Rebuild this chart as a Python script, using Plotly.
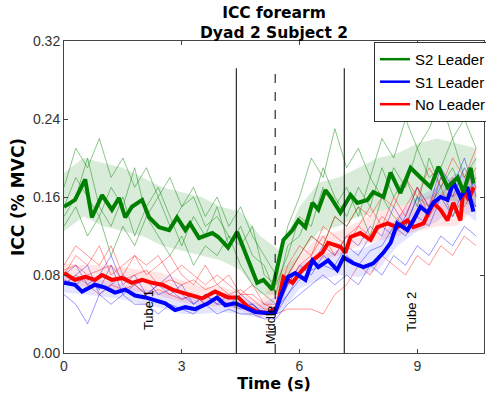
import plotly.graph_objects as go

# ---- mean curves ----
s2_t = [0.0, 0.28, 0.54, 0.71, 0.97, 1.22, 1.40, 1.56, 1.73, 1.99, 2.17, 2.42, 2.68, 2.88, 3.09, 3.21,
        3.44, 3.78, 3.93, 4.18, 4.41, 4.62, 4.92, 5.08, 5.31, 5.38, 5.59, 5.82, 5.97, 6.15, 6.33, 6.48,
        6.66, 6.79, 7.04, 7.30, 7.47, 7.73, 7.88, 8.14, 8.32, 8.57, 8.83, 9.08, 9.34, 9.54, 9.77, 10.03,
        10.18, 10.36, 10.43]
s2_mean = [0.150, 0.157, 0.178, 0.139, 0.162, 0.147, 0.159, 0.139, 0.150, 0.157, 0.139, 0.129, 0.126, 0.139,
           0.126, 0.133, 0.118, 0.123, 0.119, 0.108, 0.124, 0.103, 0.072, 0.075, 0.065, 0.078, 0.116, 0.126,
           0.136, 0.129, 0.154, 0.147, 0.167, 0.160, 0.144, 0.162, 0.154, 0.157, 0.165, 0.160, 0.185, 0.164,
           0.190, 0.180, 0.170, 0.191, 0.170, 0.180, 0.165, 0.190, 0.174]

s1_t = [0.0, 0.28, 0.46, 0.79, 1.05, 1.30, 1.56, 1.81, 2.07, 2.32, 2.58, 2.83, 3.09, 3.34, 3.67, 3.90,
        4.11, 4.36, 4.62, 4.87, 5.18, 5.38, 5.51, 5.71, 5.89, 6.15, 6.33, 6.48, 6.73, 6.96, 7.12, 7.37,
        7.63, 7.88, 8.14, 8.32, 8.49, 8.75, 8.90, 9.08, 9.26, 9.41, 9.59, 9.77, 9.92, 10.10, 10.28, 10.43]
s1_mean = [0.072, 0.070, 0.063, 0.070, 0.067, 0.062, 0.065, 0.059, 0.057, 0.054, 0.051, 0.044, 0.047, 0.045,
           0.051, 0.057, 0.049, 0.051, 0.046, 0.042, 0.041, 0.042, 0.057, 0.078, 0.082, 0.075, 0.095, 0.088,
           0.095, 0.085, 0.098, 0.092, 0.088, 0.092, 0.103, 0.113, 0.133, 0.126, 0.136, 0.150, 0.144, 0.154,
           0.160, 0.157, 0.175, 0.160, 0.170, 0.145]

nl_t = [0.0, 0.28, 0.54, 0.79, 0.97, 1.22, 1.48, 1.73, 1.99, 2.24, 2.50, 2.76, 3.01, 3.27, 3.52, 3.85,
        4.18, 4.44, 4.69, 4.95, 5.20, 5.43, 5.59, 5.82, 6.07, 6.33, 6.58, 6.73, 7.04, 7.17, 7.30, 7.55,
        7.81, 7.98, 8.24, 8.49, 8.75, 8.90, 9.16, 9.41, 9.59, 9.77, 9.92, 10.10, 10.18, 10.31, 10.43]
nl_mean = [0.082, 0.075, 0.078, 0.075, 0.080, 0.075, 0.077, 0.072, 0.075, 0.072, 0.070, 0.065, 0.062, 0.059,
           0.056, 0.063, 0.057, 0.057, 0.047, 0.042, 0.041, 0.047, 0.078, 0.072, 0.085, 0.095, 0.103, 0.113,
           0.109, 0.103, 0.119, 0.123, 0.116, 0.129, 0.133, 0.129, 0.136, 0.129, 0.133, 0.154, 0.147, 0.136,
           0.154, 0.136, 0.170, 0.157, 0.170]

# ---- shaded bands ----
band_t = [0, 0.5, 1, 1.5, 2, 2.5, 3, 3.5, 4, 4.5, 5, 5.5, 6, 6.5, 7, 7.5, 8, 8.5, 9, 9.5, 10, 10.5]
s2_hi = [.185, .200, .195, .190, .180, .170, .165, .160, .150, .145, .120, .105, .150, .175, .180, .190,
         .200, .205, .215, .220, .215, .210]
s2_lo = [.125, .140, .130, .125, .120, .110, .105, .100, .095, .085, .060, .060, .100, .125, .130, .140,
         .145, .150, .155, .160, .155, .150]
s1_hi = [.080, .078, .075, .070, .066, .062, .058, .056, .058, .056, .050, .060, .090, .100, .105, .105,
         .115, .140, .160, .170, .185, .175]
s1_lo = [.062, .060, .058, .055, .050, .046, .040, .040, .042, .040, .036, .040, .066, .075, .080, .078,
         .085, .110, .125, .135, .150, .135]
nl_hi = [.092, .090, .090, .088, .085, .082, .075, .068, .068, .062, .052, .085, .100, .120, .125, .135,
         .145, .150, .155, .165, .165, .185]
nl_lo = [.070, .068, .066, .064, .062, .058, .052, .048, .048, .044, .036, .060, .080, .095, .100, .110,
         .115, .120, .125, .130, .130, .150]

# ---- single trials ----
trial_t = [0.0, 0.3, 0.6, 0.9, 1.2, 1.5, 1.8, 2.1, 2.4, 2.7, 3.0, 3.3, 3.6, 3.9, 4.2, 4.5, 4.8, 5.1,
           5.4, 5.7, 6.0, 6.3, 6.6, 6.9, 7.2, 7.5, 7.8, 8.1, 8.4, 8.7, 9.0, 9.3, 9.6, 9.9, 10.2, 10.5]
s2_trials = [
    [0.17, 0.21, 0.19, 0.22, 0.18, 0.20, 0.17, 0.19, 0.16, 0.18, 0.15, 0.17, 0.14, 0.16, 0.13, 0.15, 0.12, 0.10,
     0.08, 0.13, 0.16, 0.20, 0.18, 0.23, 0.19, 0.21, 0.18, 0.22, 0.20, 0.24, 0.21, 0.23, 0.26, 0.22, 0.24, 0.21],
    [0.13, 0.15, 0.12, 0.14, 0.10, 0.13, 0.11, 0.14, 0.12, 0.10, 0.12, 0.09, 0.11, 0.10, 0.12, 0.09, 0.07, 0.06,
     0.05, 0.08, 0.10, 0.12, 0.11, 0.14, 0.13, 0.15, 0.12, 0.16, 0.14, 0.13, 0.16, 0.15, 0.17, 0.14, 0.16, 0.15],
    [0.15, 0.18, 0.16, 0.14, 0.17, 0.15, 0.19, 0.14, 0.16, 0.13, 0.15, 0.16, 0.13, 0.14, 0.12, 0.11, 0.13, 0.08,
     0.07, 0.10, 0.14, 0.13, 0.17, 0.15, 0.17, 0.14, 0.18, 0.16, 0.19, 0.17, 0.21, 0.18, 0.19, 0.22, 0.18, 0.20],
    [0.14, 0.16, 0.20, 0.15, 0.13, 0.16, 0.12, 0.15, 0.17, 0.14, 0.11, 0.14, 0.12, 0.15, 0.11, 0.13, 0.10, 0.09,
     0.06, 0.11, 0.12, 0.15, 0.19, 0.16, 0.14, 0.17, 0.15, 0.19, 0.16, 0.18, 0.15, 0.20, 0.17, 0.19, 0.16, 0.18],
]
s1_trials = [
    [0.08, 0.09, 0.07, 0.08, 0.10, 0.07, 0.08, 0.06, 0.07, 0.08, 0.06, 0.05, 0.06, 0.05, 0.06, 0.05, 0.05, 0.04,
     0.04, 0.06, 0.08, 0.09, 0.11, 0.10, 0.12, 0.11, 0.13, 0.12, 0.15, 0.13, 0.16, 0.14, 0.18, 0.16, 0.19, 0.17],
    [0.06, 0.05, 0.03, 0.06, 0.05, 0.06, 0.05, 0.05, 0.04, 0.05, 0.045, 0.04, 0.05, 0.04, 0.045, 0.04, 0.04, 0.035,
     0.035, 0.05, 0.06, 0.07, 0.08, 0.07, 0.08, 0.07, 0.09, 0.08, 0.10, 0.09, 0.11, 0.10, 0.12, 0.11, 0.13, 0.12],
    [0.07, 0.08, 0.09, 0.06, 0.07, 0.08, 0.07, 0.06, 0.07, 0.06, 0.07, 0.05, 0.06, 0.05, 0.05, 0.06, 0.05, 0.04,
     0.04, 0.07, 0.09, 0.08, 0.10, 0.09, 0.11, 0.10, 0.12, 0.13, 0.12, 0.14, 0.17, 0.15, 0.19, 0.17, 0.20, 0.16],
    [0.075, 0.07, 0.08, 0.065, 0.09, 0.06, 0.07, 0.075, 0.06, 0.065, 0.055, 0.06, 0.05, 0.055, 0.05, 0.045, 0.05,
     0.04, 0.045, 0.06, 0.075, 0.085, 0.09, 0.085, 0.10, 0.09, 0.105, 0.11, 0.13, 0.12, 0.14, 0.13, 0.16, 0.14,
     0.17, 0.15],
]
nl_trials = [
    [0.09, 0.11, 0.10, 0.09, 0.11, 0.08, 0.10, 0.09, 0.10, 0.08, 0.09, 0.08, 0.07, 0.08, 0.07, 0.06, 0.06, 0.05,
     0.045, 0.08, 0.10, 0.12, 0.11, 0.14, 0.13, 0.15, 0.14, 0.16, 0.15, 0.18, 0.16, 0.19, 0.17, 0.20, 0.18, 0.21],
    [0.07, 0.08, 0.07, 0.06, 0.07, 0.065, 0.07, 0.06, 0.065, 0.06, 0.055, 0.06, 0.05, 0.055, 0.05, 0.05, 0.045,
     0.04, 0.04, 0.045, 0.045, 0.045, 0.04, 0.06, 0.07, 0.09, 0.08, 0.10, 0.09, 0.08, 0.10, 0.09, 0.11, 0.10,
     0.12, 0.11],
    [0.08, 0.10, 0.09, 0.11, 0.08, 0.09, 0.10, 0.08, 0.09, 0.10, 0.08, 0.07, 0.09, 0.07, 0.08, 0.06, 0.07, 0.05,
     0.05, 0.09, 0.11, 0.10, 0.13, 0.12, 0.11, 0.13, 0.15, 0.13, 0.16, 0.14, 0.17, 0.15, 0.18, 0.16, 0.17, 0.19],
    [0.085, 0.09, 0.08, 0.085, 0.09, 0.075, 0.08, 0.085, 0.07, 0.075, 0.07, 0.075, 0.065, 0.07, 0.06, 0.065, 0.055,
     0.045, 0.045, 0.07, 0.09, 0.10, 0.12, 0.10, 0.12, 0.13, 0.12, 0.14, 0.13, 0.15, 0.17, 0.14, 0.16, 0.18, 0.15,
     0.17],
]

# phase markers
phase_x = [4.39, 5.38, 7.14]
phase_dash = ['solid', 'dash', 'solid']
phase_top = 0.292
phase_labels = ['Tube 1', 'Middle', 'Tube 2']
label_x = [2.14, 5.26, 8.83]
label_y = [0.044, 0.029, 0.042]

groups = [
    ('S2 Leader', 'rgb(0,128,0)', 'rgba(0,128,0,0.15)', 'rgba(0,128,0,0.45)', s2_t, s2_mean, s2_lo, s2_hi, s2_trials),
    ('S1 Leader', 'rgb(0,0,255)', 'rgba(0,0,255,0.10)', 'rgba(0,0,255,0.40)', s1_t, s1_mean, s1_lo, s1_hi, s1_trials),
    ('No Leader', 'rgb(255,0,0)', 'rgba(255,0,0,0.10)', 'rgba(255,0,0,0.40)', nl_t, nl_mean, nl_lo, nl_hi, nl_trials),
]

fig = go.Figure()

# legend entries (thin samples) go first so they keep this order
for name, col, *_ in groups:
    fig.add_trace(go.Scatter(x=[None], y=[None], mode='lines', name=name, line=dict(color=col, width=2.5)))

# bands and single trials
for name, col, fill, thin, t, m, lo, hi, trials in groups:
    fig.add_trace(go.Scatter(x=band_t, y=lo, mode='lines', line=dict(width=0), showlegend=False, hoverinfo='skip'))
    fig.add_trace(go.Scatter(x=band_t, y=hi, mode='lines', line=dict(width=0), fill='tonexty',
                             fillcolor=fill, showlegend=False, hoverinfo='skip'))
    for tr in trials:
        fig.add_trace(go.Scatter(x=trial_t, y=tr, mode='lines', line=dict(color=thin, width=1),
                                 showlegend=False))

# thick means, green on top like the original
for name, col, fill, thin, t, m, lo, hi, trials in [groups[2], groups[1], groups[0]]:
    fig.add_trace(go.Scatter(x=t, y=m, mode='lines', line=dict(color=col, width=4), showlegend=False))

for px, dsh in zip(phase_x, phase_dash):
    fig.add_shape(type='line', x0=px, x1=px, y0=0, y1=phase_top, xref='x', yref='y',
                  line=dict(color='black', width=1, dash=dsh))

for txt, lx, ly in zip(phase_labels, label_x, label_y):
    fig.add_annotation(x=lx, y=ly, text=txt, textangle=-90, showarrow=False,
                       font=dict(family='Liberation Sans, Arial', size=13, color='black'))

fig.add_annotation(x=0.5, y=1.0, xref='paper', yref='paper', yanchor='bottom', yshift=-3,
                   text='<b>ICC forearm</b><br><b>Dyad 2 Subject 2</b>', showarrow=False,
                   font=dict(family='DejaVu Sans', size=15.5, color='black'))

axis_common = dict(showline=True, linecolor='#444', linewidth=1, mirror='allticks', ticks='inside',
                   ticklen=4, tickcolor='#444', showgrid=False, zeroline=False, automargin=False,
                   tickfont=dict(family='Liberation Sans, Arial', size=14, color='#333'))

fig.update_layout(
    width=486, height=397,
    margin=dict(l=64, r=2, t=41, b=44, autoexpand=False),
    paper_bgcolor='white', plot_bgcolor='white',
    xaxis=dict(range=[0, 10.7], tickvals=[0, 3, 6, 9],
               title=dict(text='<b>Time (s)</b>', standoff=2,
                          font=dict(family='DejaVu Sans', size=16, color='black')), **axis_common),
    yaxis=dict(range=[0, 0.32], tickvals=[0, 0.08, 0.16, 0.24, 0.32], tickformat='.2f',
               title=dict(text='<b>ICC (% MVC)</b>', standoff=4,
                          font=dict(family='DejaVu Sans', size=17, color='black')), **axis_common),
    legend=dict(x=0.738, y=0.997, xanchor='left', yanchor='top', bgcolor='white', traceorder='normal',
                bordercolor='#333', borderwidth=1, itemwidth=30, tracegroupgap=0,
                font=dict(family='Liberation Sans, Arial', size=15, color='black')),
)

fig.write_html("out.html", config={'displayModeBar': False},
               post_script="document.body.style.margin='0';")
